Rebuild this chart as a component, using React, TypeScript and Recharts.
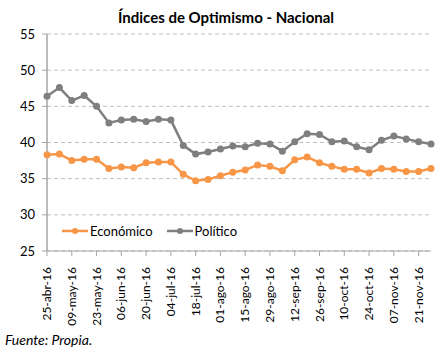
import { LineChart, Line, XAxis, YAxis, CartesianGrid, Legend } from "recharts";

const fechas = [
  "25-abr-16", "02-may-16", "09-may-16", "16-may-16", "23-may-16", "30-may-16",
  "06-jun-16", "13-jun-16", "20-jun-16", "27-jun-16", "04-jul-16", "11-jul-16",
  "18-jul-16", "25-jul-16", "01-ago-16", "08-ago-16", "15-ago-16", "22-ago-16",
  "29-ago-16", "05-sep-16", "12-sep-16", "19-sep-16", "26-sep-16", "03-oct-16",
  "10-oct-16", "17-oct-16", "24-oct-16", "31-oct-16", "07-nov-16", "14-nov-16",
  "21-nov-16", "28-nov-16",
];

const economico = [
  38.3, 38.4, 37.5, 37.7, 37.7, 36.4, 36.6, 36.5, 37.2, 37.3, 37.3, 35.6,
  34.7, 34.9, 35.4, 35.9, 36.2, 36.9, 36.7, 36.1, 37.6, 38.0, 37.2, 36.7,
  36.3, 36.3, 35.8, 36.4, 36.3, 36.0, 36.0, 36.4,
];

const politico = [
  46.4, 47.6, 45.8, 46.5, 45.0, 42.7, 43.1, 43.2, 42.9, 43.2, 43.1, 39.6,
  38.4, 38.7, 39.1, 39.5, 39.4, 39.9, 39.8, 38.8, 40.1, 41.2, 41.1, 40.1,
  40.2, 39.4, 39.0, 40.3, 40.9, 40.5, 40.1, 39.8,
];

const yTicks = [25, 30, 35, 40, 45, 50, 55];

const FONT = "Lato, 'Open Sans', sans-serif";
const ORANGE = "#F79646";
const GRAY = "#7F7F7F";

const data = fechas.map((f, i) => ({
  fecha: f,
  economico: economico[i],
  politico: politico[i],
}));

function XTick(props: any) {
  const { x, y, payload } = props;
  return (
    <text
      x={0}
      y={0}
      transform={`translate(${x + 4},${y + 9}) rotate(-90)`}
      textAnchor="end"
      fontSize={12}
      fontFamily={FONT}
      fill="#000"
    >
      {payload.value}
    </text>
  );
}

function LegendContent() {
  const items = [
    { label: "Económico", color: ORANGE },
    { label: "Político", color: GRAY },
  ];
  return (
    <div style={{ display: "flex", fontFamily: FONT, fontSize: 13, color: "#000" }}>
      {items.map((it) => (
        <div key={it.label} style={{ display: "flex", alignItems: "center", marginRight: 14 }}>
          <svg width={26} height={10} style={{ marginRight: 2 }}>
            <line x1={0} y1={5} x2={26} y2={5} stroke={it.color} strokeWidth={2.5} />
            <circle cx={13} cy={5} r={3} fill={it.color} />
          </svg>
          <span>{it.label}</span>
        </div>
      ))}
    </div>
  );
}

export default function App() {
  return (
    <div style={{ position: "absolute", left: 0, top: 0, width: 444, height: 354, background: "#fff" }}>
      <LineChart
        width={444}
        height={354}
        data={data}
        margin={{ top: 18, right: 13, bottom: 0, left: 0 }}
      >
        <CartesianGrid
          vertical={false}
          stroke="#BFBFBF"
          strokeDasharray="4 3"
        />
        <XAxis
          dataKey="fecha"
          interval={1}
          height={103}
          padding={{ left: 0, right: 0 }}
          axisLine={{ stroke: "#A6A6A6", strokeWidth: 1 }}
          tickLine={{ stroke: "#A6A6A6" }}
          tickSize={5}
          tick={<XTick />}
        />
        <YAxis
          domain={[25, 55]}
          ticks={yTicks}
          width={47}
          axisLine={{ stroke: "#A6A6A6", strokeWidth: 1.5 }}
          tickLine={{ stroke: "#A6A6A6" }}
          tickSize={5}
          tickMargin={7}
          tick={{ fontSize: 13, fontFamily: FONT, fill: "#000" }}
        />
        <Legend
          verticalAlign="top"
          align="left"
          wrapperStyle={{ top: 223, left: 62, width: 260 }}
          content={<LegendContent />}
        />
        <Line
          type="linear"
          dataKey="economico"
          name="Económico"
          stroke={ORANGE}
          strokeWidth={2.5}
          dot={{ r: 3.5, fill: ORANGE, stroke: ORANGE, strokeWidth: 0 }}
          isAnimationActive={false}
        />
        <Line
          type="linear"
          dataKey="politico"
          name="Político"
          stroke={GRAY}
          strokeWidth={2.5}
          dot={{ r: 3.5, fill: GRAY, stroke: GRAY, strokeWidth: 0 }}
          isAnimationActive={false}
        />
      </LineChart>
      <div
        style={{
          position: "absolute",
          top: 8,
          left: 0,
          width: 444,
          textAlign: "center",
          pointerEvents: "none",
        }}
      >
        <span
          style={{
            fontFamily: FONT,
            fontWeight: 700,
            fontSize: 15,
            background: "#fff",
            padding: "0 4px",
            marginLeft: 8,
          }}
        >
          Índices de Optimismo - Nacional
        </span>
      </div>
      <div
        style={{
          position: "absolute",
          top: 331,
          left: 5,
          fontFamily: FONT,
          fontStyle: "italic",
          fontSize: 14,
          color: "#000",
        }}
      >
        Fuente: Propia.
      </div>
    </div>
  );
}
